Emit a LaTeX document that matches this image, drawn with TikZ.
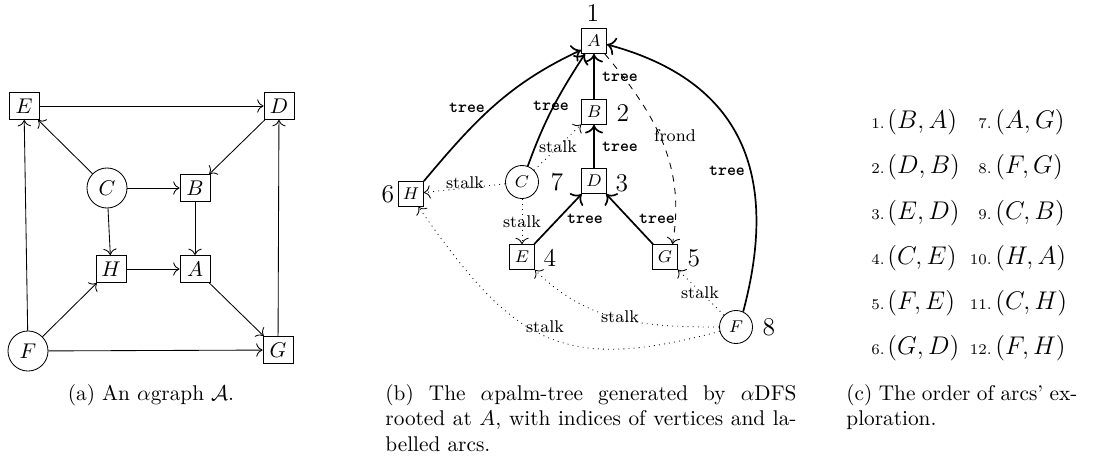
\documentclass[tikz,border=0pt]{standalone}
\usetikzlibrary{arrows.meta}
\begin{document}
\begin{tikzpicture}[x=0.4695pt,y=-0.4695pt,
  >={Computer Modern Rightarrow[scale=1.2]},
  abox/.style={draw,rectangle,minimum width=14.1pt,minimum height=12.7pt,inner sep=0pt},
  acirc/.style={draw,circle,minimum size=18.8pt,inner sep=0pt},
  bbox/.style={draw,rectangle,minimum size=11.7pt,inner sep=0pt,font=\footnotesize},
  bcirc/.style={draw,circle,minimum size=15.5pt,inner sep=0pt,font=\footnotesize},
  aedge/.style={->},
  tedge/.style={->,thick},
  sedge/.style={->,dotted},
  fedge/.style={->,dashed},
  idx/.style={font=\large,inner sep=0pt},
  treelbl/.style={font=\footnotesize\ttfamily\bfseries,inner sep=0pt},
  stalklbl/.style={font=\footnotesize,inner sep=0pt},
  num/.style={font=\scriptsize,anchor=base east,inner sep=0pt},
  ent/.style={font=\large,anchor=base west,inner sep=0pt},
  capt/.style={inner sep=0pt,font=\normalsize}]
\useasboundingbox (0,0) rectangle (1094,457);

% ---------- (a) ----------
\node[abox]  (aE) at (24,106)  {$E$};
\node[abox]  (aD) at (279,106) {$D$};
\node[acirc] (aC) at (107,188) {$C$};
\node[abox]  (aB) at (195,188) {$B$};
\node[abox]  (aH) at (111,269) {$H$};
\node[abox]  (aA) at (195,269) {$A$};
\node[acirc] (aF) at (28,351)  {$F$};
\node[abox]  (aG) at (278,350) {$G$};
\draw[aedge] (aE) -- (aD);
\draw[aedge] (aC) -- (aE);
\draw[aedge] (aD) -- (aB);
\draw[aedge] (aC) -- (aB);
\draw[aedge] (aC) -- (aH);
\draw[aedge] (aB) -- (aA);
\draw[aedge] (aH) -- (aA);
\draw[aedge] (aF) -- (aH);
\draw[aedge] (aF) -- (aE);
\draw[aedge] (aF) -- (aG);
\draw[aedge] (aA) -- (aG);
\draw[aedge] (aG) -- (aD);
\node[capt,anchor=base] (capa) at (151,400) {(a) An $\alpha$graph $\mathcal{A}$.};

% ---------- (b) ----------
\node[bbox]  (bA) at (594,41)  {$A$};
\node[bbox]  (bB) at (594,112) {$B$};
\node[bbox]  (bD) at (594,181) {$D$};
\node[bcirc] (bC) at (522,182) {$C$};
\node[bbox]  (bH) at (411,194) {$H$};
\node[bbox]  (bE) at (522,257) {$E$};
\node[bbox]  (bG) at (665,257) {$G$};
\node[bcirc] (bF) at (736,327) {$F$};

\node[idx] (i1) at (593,13)  {1};
\node[idx] (i2) at (623,113) {2};
\node[idx] (i3) at (622,183) {3};
\node[idx] (i7) at (557,182) {7};
\node[idx] (i6) at (388,194) {6};
\node[idx] (i4) at (550,258) {4};
\node[idx] (i5) at (694,258) {5};
\node[idx] (i8) at (769,327) {8};

\draw[tedge] (bB) -- (bA);
\draw[tedge] (bD) -- (bB);
\draw[tedge] (bE) -- (bD);
\draw[tedge] (bG) -- (bD);
\draw[tedge] (bC.70) to[out=70,in=237] (bA.235);
\draw[tedge] (bH.north east) to[out=50,in=205] (bA.215);
\draw[tedge] (bF.65) to[out=75,in=-15,looseness=1.2] (bA.-15);
\draw[fedge] (bA.-50) to[out=-50,in=80] (bG.60);
\draw[sedge] (bC) -- (bH);
\draw[sedge] (bC) -- (bB);
\draw[sedge] (bC) -- (bE);
\draw[sedge] (bF) -- (bG);
\draw[sedge] (bF.west) to[out=180,in=-45] (bE.south east);
\draw[sedge] (bF.195) to[out=195,in=-55,looseness=1.3] (bH.-60);

\node[treelbl] (t1) at (620,77)  {tree};
\node[treelbl] (t2) at (620,147) {tree};
\node[treelbl] (t3) at (585,219) {tree};
\node[treelbl] (t4) at (657,219) {tree};
\node[treelbl] (t5) at (467,108) {tree};
\node[treelbl] (t6) at (551,106) {tree};
\node[treelbl] (t7) at (727,171) {tree};
\node[stalklbl] (s1) at (558,147) {stalk};
\node[stalklbl] (s2) at (465,183) {stalk};
\node[stalklbl] (s3) at (522,222) {stalk};
\node[stalklbl] (s4) at (700,293) {stalk};
\node[stalklbl] (s5) at (620,317) {stalk};
\node[stalklbl] (s6) at (545,327) {stalk};
\node[stalklbl] (fr) at (675,136) {frond};

\node[capt,anchor=north west,text width=193pt,align=justify] (capb) at (385,384)
  {(b) The $\alpha$palm-tree generated by $\alpha$DFS rooted at $A$, with indices of vertices and la\-belled arcs.};

% ---------- (c) ----------
\foreach \n/\e/\y in {1/{(B,A)}/122,2/{(D,B)}/167,3/{(E,D)}/213,4/{(C,E)}/258,5/{(F,E)}/303,6/{(G,D)}/348}{
  \node[num] (n\n) at (885,\y+6) {\n.};
  \node[ent] (e\n) at (887,\y+6) {$\e$};
}
\foreach \n/\e/\y in {7/{(A,G)}/122,8/{(F,G)}/167,9/{(C,B)}/213,10/{(H,A)}/258,11/{(C,H)}/303,12/{(F,H)}/348}{
  \node[num] (n\n) at (992,\y+6) {\n.};
  \node[ent] (e\n) at (995,\y+6) {$\e$};
}
\node[capt,anchor=north west,text width=108.5pt,align=justify] (capc) at (846,384)
  {(c) The order of arcs' ex-\linebreak ploration.};
\end{tikzpicture}
\end{document}
